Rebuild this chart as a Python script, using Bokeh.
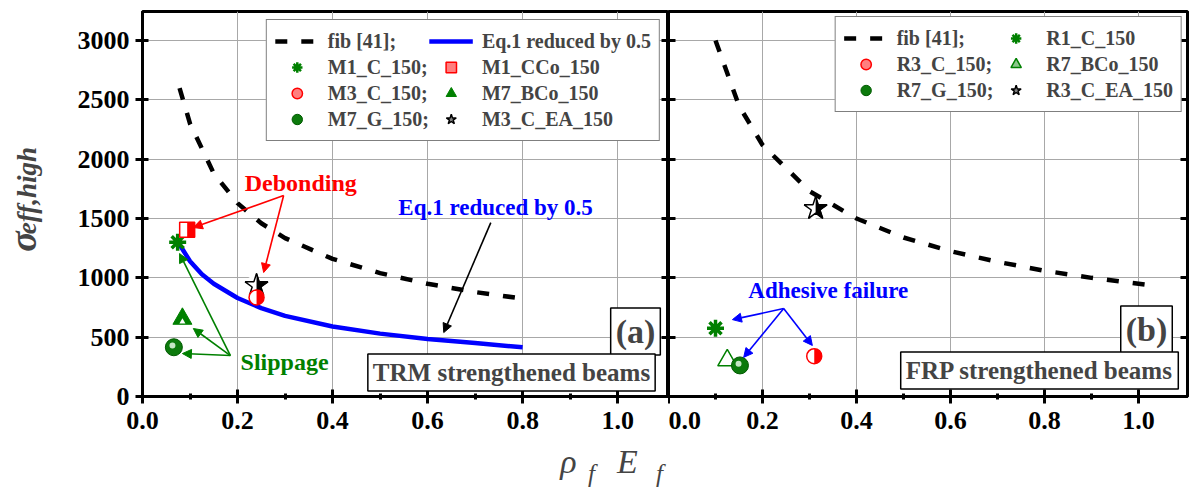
import math
from bokeh.plotting import figure
from bokeh.layouts import row, column
from bokeh.models import (Range1d, LinearAxis, Label, Arrow, NormalHead, Legend,
                          LegendItem, FixedTicker, PrintfTickFormatter, ColumnDataSource,
                          CustomJSTickFormatter)
from bokeh.embed import file_html
from bokeh.resources import INLINE
from bokeh.transform import dodge

# ---------------- data ----------------
fib_a_x = [0.078, 0.1, 0.15, 0.2, 0.25, 0.3, 0.4, 0.5, 0.6, 0.7, 0.8]
fib_a_y = [2600, 2300, 1880, 1630, 1460, 1335, 1160, 1040, 950, 880, 825]
eq1_x = [0.075, 0.1, 0.125, 0.15, 0.2, 0.25, 0.3, 0.4, 0.5, 0.6, 0.7, 0.8]
eq1_y = [1300, 1140, 1030, 950, 830, 745, 680, 590, 530, 485, 450, 415]
fib_b_x = [0.1, 0.15, 0.2, 0.3, 0.4, 0.5, 0.6, 0.7, 0.8, 0.9, 1.0, 1.04]
fib_b_y = [3000, 2450, 2120, 1730, 1500, 1340, 1225, 1135, 1060, 1000, 950, 930]

# TRM specimens (panel a)
m1_c_150 = (0.074, 1300)
m1_cco_150 = (0.094, 1405)
m3_c_150 = (0.24, 835)
m7_bco_150 = (0.084, 655)
m7_g_150 = (0.066, 415)
m3_c_ea_150 = (0.24, 935)
# FRP specimens (panel b)
r1_c_150 = (0.10, 576)
r3_c_150 = (0.31, 340)
r7_bco_150 = (0.125, 305)
r7_g_150 = (0.152, 262)
r3_c_ea_150 = (0.313, 1584)

x_ticks = [0.0, 0.2, 0.4, 0.6, 0.8, 1.0]
x_minor = [0.1, 0.3, 0.5, 0.7, 0.9]
y_ticks = [0, 500, 1000, 1500, 2000, 2500, 3000]

FONT = "Liberation Serif"
GREEN = "#008000"
RED = "#ff0000"
BLUE = "#0000ff"
H = 440          # height of the panel row
XL_H = 52        # height of the strip carrying the x title
YL_W = 60        # width of the strip carrying the y title

BLANK = CustomJSTickFormatter(code="return ''")
NAN = float("nan")


def src(pt):
    return ColumnDataSource(dict(x=[pt[0]], y=[pt[1]]))


def key_src():
    # a legend key only: its point is not drawn on the plot
    return ColumnDataSource(dict(x=[NAN], y=[NAN]))


def style(p, show_ylabels=True):
    p.outline_line_color = "black"
    p.outline_line_width = 3
    p.background_fill_color = "white"
    p.border_fill_color = "white"
    p.xgrid.grid_line_color = "#a8a8a8"
    p.ygrid.grid_line_color = "#a8a8a8"
    p.xgrid.grid_line_width = 1
    p.ygrid.grid_line_width = 1
    xa = p.xaxis[0]
    xa.ticker = FixedTicker(ticks=x_ticks, minor_ticks=x_minor)
    xa.formatter = PrintfTickFormatter(format="%.1f")
    ya = p.yaxis[0]
    ya.ticker = FixedTicker(ticks=y_ticks, minor_ticks=[])
    for ax in (xa, ya):
        ax.axis_line_width = 3
        ax.major_tick_line_width = 3
        ax.minor_tick_line_width = 3
        ax.major_label_text_font = FONT
        ax.major_label_text_font_style = "bold"
        ax.major_label_text_font_size = "26px"
        ax.major_label_text_color = "black"
    xa.major_tick_in = 7
    xa.major_tick_out = 7
    xa.minor_tick_in = 3
    xa.minor_tick_out = 3
    xa.major_label_standoff = 8
    ya.major_tick_in = 6
    ya.major_tick_out = 7
    ya.major_label_standoff = 6
    if not show_ylabels:
        ya.formatter = BLANK
        ya.major_tick_out = 0
        ya.major_tick_in = 7
        ya.major_label_standoff = 0
    ra = LinearAxis(ticker=FixedTicker(ticks=y_ticks, minor_ticks=[]), formatter=BLANK,
                    major_label_standoff=0, major_tick_in=7, major_tick_out=0,
                    axis_line_width=3, major_tick_line_width=3,
                    minor_tick_in=0, minor_tick_out=0)
    p.add_layout(ra, "right")


def text_label(p, x, y, txt, color, size="23px"):
    p.add_layout(Label(x=x, y=y, text=txt, text_color=color, text_font=FONT,
                       text_font_style="bold", text_font_size=size,
                       text_align="center", text_baseline="middle"))


def arrow(p, x0, y0, x1, y1, color):
    p.add_layout(Arrow(x_start=x0, y_start=y0, x_end=x1, y_end=y1,
                       line_color=color, line_width=1.6,
                       end=NormalHead(size=9, fill_color=color, line_color=color)))


def boxed(p, sx, sy, txt, size, pad):
    p.add_layout(Label(x=sx, y=sy, x_units="screen", y_units="screen", text=txt,
                       text_font=FONT, text_font_style="bold", text_font_size=size,
                       text_align="center", text_baseline="middle",
                       background_fill_color="white", border_line_color="black",
                       border_line_width=1.5, padding=pad))


def half_circle(p, pt, size=15):
    p.scatter("x", "y", source=src(pt), marker="circle", size=size,
              fill_color="white", line_color=RED, line_width=1.5)
    p.wedge("x", "y", source=src(pt), radius=size / 2, radius_units="screen",
            start_angle=-math.pi / 2, end_angle=math.pi / 2,
            fill_color=RED, line_color=None)


def half_square(p, pt, dx):
    p.scatter("x", "y", source=src(pt), marker="square", size=15,
              fill_color="white", line_color=RED, line_width=1.5)
    p.rect(x=dodge("x", dx), y="y", source=src(pt), width=7.5, height=15,
           width_units="screen", height_units="screen",
           fill_color=RED, line_color=None)


def sphere(p, pt, dx, dy):
    p.scatter("x", "y", source=src(pt), marker="circle", size=17,
              fill_color="#0c7a0c", line_color="#005a00", line_width=1)
    p.scatter(x=dodge("x", dx), y=dodge("y", dy), source=src(pt), marker="circle",
              size=6, fill_color="#d9f2d9", line_color=None, fill_alpha=0.9)


def half_star(p, pt):
    p.scatter("x", "y", source=src(pt), marker="star", size=24,
              fill_color="black", line_color="black", line_width=1)
    p.wedge("x", "y", source=src(pt), radius=11, radius_units="screen",
            start_angle=math.pi / 2, end_angle=3 * math.pi / 2,
            fill_color="white", line_color=None)
    p.scatter("x", "y", source=src(pt), marker="star", size=24,
              fill_color=None, line_color="black", line_width=1.5)


def key_markers(p):
    """Marker styles used only for the legend keys."""
    k = {}
    k["ast"] = [p.scatter("x", "y", source=key_src(), marker="asterisk",
                          line_color=GREEN, line_width=2.5)]
    k["sq"] = [p.scatter("x", "y", source=key_src(), marker="square",
                         fill_color=RED, fill_alpha=0.5, line_color=RED, line_width=1.5)]
    k["circ"] = [p.scatter("x", "y", source=key_src(), marker="circle",
                           fill_color=RED, fill_alpha=0.5, line_color=RED, line_width=1.5)]
    k["tri_f"] = [p.scatter("x", "y", source=key_src(), marker="triangle",
                            fill_color=GREEN, line_color=GREEN, line_width=1)]
    k["tri_o"] = [p.scatter("x", "y", source=key_src(), marker="triangle",
                            fill_color=GREEN, fill_alpha=0.45, line_color=GREEN,
                            line_width=1.5)]
    k["sph"] = [p.scatter("x", "y", source=key_src(), marker="circle",
                          fill_color="#0c7a0c", line_color="#005a00", line_width=1)]
    k["star"] = [p.scatter("x", "y", source=key_src(), marker="star",
                           fill_color="black", fill_alpha=0.5, line_color="black",
                           line_width=1.5)]
    return k


def legend(p, items, margin):
    lg = Legend(items=items, location="top_right", orientation="horizontal", ncols=2,
                label_text_font=FONT, label_text_font_style="bold",
                label_text_font_size="20px", glyph_width=44, glyph_height=26,
                label_height=25, spacing=0, padding=8, margin=margin, label_standoff=9,
                border_line_color="black", border_line_width=1.5,
                background_fill_color="white", background_fill_alpha=1.0)
    p.add_layout(lg)


# ---------------- panel (a) ----------------
pa = figure(width=668 - YL_W, height=H, x_range=Range1d(0, 1.107),
            y_range=Range1d(0, 3245), output_backend="svg", toolbar_location=None,
            min_border_left=142 - YL_W, min_border_right=0, min_border_top=11,
            min_border_bottom=H - 396)
style(pa, show_ylabels=True)

half_star(pa, m3_c_ea_150)
a_fib = pa.line(fib_a_x, fib_a_y, line_color="black", line_width=4.5, line_dash="12 14")
a_eq = pa.line(eq1_x, eq1_y, line_color=BLUE, line_width=4.5)
pa.scatter("x", "y", source=src(m1_c_150), marker="asterisk", size=17,
           line_color=GREEN, line_width=3.5)
half_square(pa, m1_cco_150, 0.0079)
half_circle(pa, m3_c_150)
pa.scatter("x", "y", source=src(m7_bco_150), marker="triangle", size=19,
           fill_color=GREEN, line_color=GREEN, line_width=1)
pa.scatter(x="x", y=dodge("y", -25), source=src(m7_bco_150), marker="triangle", size=6,
           fill_color="white", line_color=None)
sphere(pa, m7_g_150, -0.003, 15)
ka = key_markers(pa)

text_label(pa, 0.333, 1803, "Debonding", RED, "24px")
arrow(pa, 0.297, 1694, 0.107, 1424, RED)
arrow(pa, 0.297, 1694, 0.255, 1045, RED)
text_label(pa, 0.743, 1593, "Eq.1 reduced by 0.5", BLUE)
arrow(pa, 0.733, 1466, 0.634, 539, "black")
text_label(pa, 0.299, 295, "Slippage", GREEN, "24px")
arrow(pa, 0.185, 345, 0.078, 1205, GREEN)
arrow(pa, 0.185, 345, 0.107, 573, GREEN)
arrow(pa, 0.185, 345, 0.084, 362, GREEN)

boxed(pa, 493, 65, "(a)", "34px", 5)
boxed(pa, 369, 24, "TRM strengthened beams", "25px", 5)

legend(pa, [
    LegendItem(label="fib [41];", renderers=[a_fib]),
    LegendItem(label="Eq.1 reduced by 0.5", renderers=[a_eq]),
    LegendItem(label="M1_C_150;", renderers=ka["ast"]),
    LegendItem(label="M1_CCo_150", renderers=ka["sq"]),
    LegendItem(label="M3_C_150;", renderers=ka["circ"]),
    LegendItem(label="M7_BCo_150", renderers=ka["tri_f"]),
    LegendItem(label="M7_G_150;", renderers=ka["sph"]),
    LegendItem(label="M3_C_EA_150", renderers=ka["star"]),
], 8)

# ---------------- panel (b) ----------------
pb = figure(width=525, height=H, x_range=Range1d(0, 1.104), y_range=Range1d(0, 3245),
            output_backend="svg", toolbar_location=None,
            min_border_left=0, min_border_right=6, min_border_top=11,
            min_border_bottom=H - 396)
style(pb, show_ylabels=False)

half_star(pb, r3_c_ea_150)
b_fib = pb.line(fib_b_x, fib_b_y, line_color="black", line_width=4.5, line_dash="12 14")
pb.scatter("x", "y", source=src(r1_c_150), marker="asterisk", size=17,
           line_color=GREEN, line_width=3.5)
half_circle(pb, r3_c_150)
pb.scatter("x", "y", source=src(r7_bco_150), marker="triangle", size=19,
           fill_color="white", line_color=GREEN, line_width=1.5)
sphere(pb, r7_g_150, -0.003, 15)
kb = key_markers(pb)

text_label(pb, 0.34, 893, "Adhesive failure", BLUE)
arrow(pb, 0.245, 741, 0.136, 648, BLUE)
arrow(pb, 0.245, 741, 0.16, 330, BLUE)
arrow(pb, 0.245, 741, 0.306, 430, BLUE)

boxed(pb, 478, 67, "(b)", "34px", 5)
boxed(pb, 371, 26, "FRP strengthened beams", "25px", 5)

legend(pb, [
    LegendItem(label="fib [41];", renderers=[b_fib]),
    LegendItem(label="R1_C_150", renderers=kb["ast"]),
    LegendItem(label="R3_C_150;", renderers=kb["circ"]),
    LegendItem(label="R7_BCo_150", renderers=kb["tri_o"]),
    LegendItem(label="R7_G_150;", renderers=kb["sph"]),
    LegendItem(label="R3_C_EA_150", renderers=kb["star"]),
], 5)


# ---------------- title strips ----------------
def strip(w, h):
    f = figure(width=w, height=h, x_range=Range1d(0, 1), y_range=Range1d(0, 1),
               output_backend="svg", toolbar_location=None, min_border=0)
    f.xaxis.visible = False
    f.yaxis.visible = False
    f.grid.visible = False
    f.outline_line_color = None
    return f


def title_text(f, sx, sy, txt, size, style_, angle=0.0):
    f.add_layout(Label(x=sx, y=sy, x_units="screen", y_units="screen", text=txt,
                       angle=angle, text_font=FONT, text_font_style=style_,
                       text_font_size=size, text_align="center",
                       text_baseline="middle"))


yl = strip(YL_W, H)
title_text(yl, 22, 155, "σ", "38px", "bold italic", math.pi / 2)
title_text(yl, 26, 206, "eff,high", "27px", "bold italic", math.pi / 2)

xl = strip(1193, XL_H)
title_text(xl, 568, 31, "ρ", "34px", "italic")
title_text(xl, 591, 19, "f", "25px", "italic")
title_text(xl, 627, 31, "E", "34px", "italic")
title_text(xl, 659, 19, "f", "25px", "italic")

layout = column(row(yl, pa, pb, spacing=0), xl, spacing=0)
open("out.html", "w").write(file_html(layout, INLINE))
